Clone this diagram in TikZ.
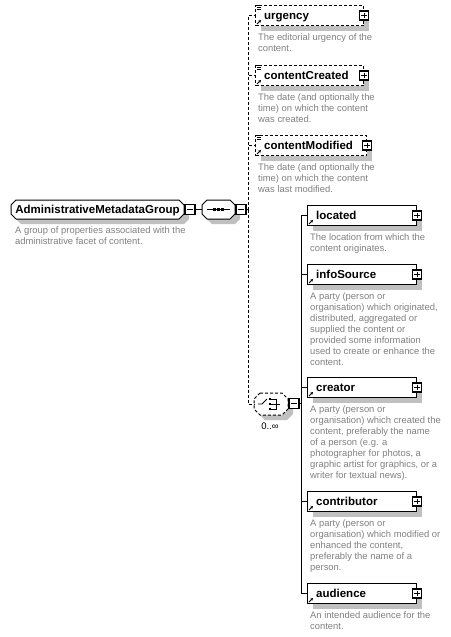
\documentclass[tikz,border=0pt]{standalone}
\usepackage{fontspec}
\setmainfont{Liberation Sans}
\usetikzlibrary{arrows.meta,shadows}
\definecolor{desccol}{RGB}{128,128,128}
\definecolor{shadcol}{RGB}{192,192,192}
\tikzset{
 ebox/.style={draw, fill=white, line width=1pt, anchor=north west, minimum height=20pt, inner sep=0pt,
   drop shadow={shadow xshift=5pt, shadow yshift=-5pt, fill=shadcol, opacity=1}},
 optb/.style={dash pattern=on 3pt off 2pt},
 reqb/.style={},
 lbl/.style={font=\bfseries\fontsize{11.5}{13}\selectfont, inner sep=0pt, anchor=base west},
 desc/.style={font=\fontsize{9.4}{11}\selectfont, text=desccol, align=left, inner sep=0pt, anchor=north west},
 pbox/.style={draw, fill=white, line width=1.2pt, minimum size=9pt, inner sep=0pt},
 sign/.style={line width=1pt},
 refarr/.style={line width=1pt, -{Stealth[length=2.8pt,width=3pt]}},
 conn/.style={line width=1pt},
 dconn/.style={line width=1pt, dash pattern=on 3pt off 2pt},
 oct/.style n args={5}{insert path={({#1+#5},#2) -- ({#3-#5},#2) -- (#3,{#2+#5}) -- (#3,{#4-#5}) -- ({#3-#5},#4) -- ({#1+#5},#4) -- (#1,{#4-#5}) -- (#1,{#2+#5}) -- cycle}},
 holder/.style={inner sep=0pt, draw=none},
}
\newcommand\xelem[7]{%
 \node[ebox,#6,minimum width=#4pt] (#1) at (#2,#3) {};
 \node[lbl] (#1L) at ([shift={(9,4)}]#1.west) {#5};
 \node[pbox] (#1P) at (#1.east) {};
 \draw[sign] ([xshift=-2.7pt]#1P.center) -- ([xshift=2.7pt]#1P.center);
 \draw[sign] ([yshift=-2.7pt]#1P.center) -- ([yshift=2.7pt]#1P.center);
 \draw[refarr] ([shift={(2pt,2pt)}]#1.south west) -- ++(4pt,4pt);
 \node[desc] (#1D) at ([shift={(3,7)}]#1.south west) {\strut #7};
}
\newcommand\xopticon[1]{%
 \draw[line width=0.7pt] ([shift={(2pt,-0.6pt)}]#1.north west) -- ++(5pt,0pt);
 \draw[line width=0.7pt] ([shift={(2pt,-2.3pt)}]#1.north west) -- ++(4pt,0pt);
 \draw[line width=0.7pt] ([shift={(2pt,-4pt)}]#1.north west) -- ++(4pt,0pt);
}
\newcommand\xminus[1]{%
 \draw[sign] ([xshift=-2.7pt]#1.center) -- ([xshift=2.7pt]#1.center);
}
\begin{document}
\begin{tikzpicture}[x=1pt,y=-1pt]
\useasboundingbox (0,0) rectangle (450,637);

% group
\fill[shadcol, shift={(5,5)}, oct={11}{200}{184}{219}{5}];
\draw[line width=1pt, fill=white, oct={11}{200}{184}{219}{5}];
\node[lbl, anchor=base] (group) at (97.5,213.5) {AdministrativeMetadataGroup};
\node[desc] (groupD) at (15,226) {\strut A group of properties associated with the\\administrative facet of content.};
\node[pbox, minimum size=10pt] (groupM) at (190,209.5) {};
\xminus{groupM}

% sequence
\fill[shadcol, shift={(5,5)}, oct={202}{200}{235}{219}{5}];
\draw[line width=1pt, fill=white, oct={202}{200}{235}{219}{5}];
\node[holder, minimum width=33pt, minimum height=19pt] (seq) at (218.5,209.5) {};
\draw[line width=1pt] (207,209.5) -- (230,209.5);
\fill (213,208.2) rectangle ++(2.6,2.6);
\fill (217.2,208.2) rectangle ++(2.6,2.6);
\fill (221.4,208.2) rectangle ++(2.6,2.6);
\node[pbox, minimum size=10pt] (seqM) at (241,209.5) {};
\xminus{seqM}
\draw[conn] (groupM.east) -- (seq.west);
\coordinate (bus1) at (248,209.5);
\draw[conn] (seqM.east) -- (bus1);

% choice
\fill[shadcol, shift={(5,5)}, oct={254}{393}{288}{415}{6}];
\draw[line width=1pt, fill=white, dash pattern=on 3pt off 2pt, oct={254}{393}{288}{415}{6}];
\node[holder, minimum width=34pt, minimum height=22pt] (choice) at (271,404) {};
\draw[line width=0.9pt] (258,404) -- (262,404) -- (267,399);
\fill (269,398) rectangle ++(2.2,2.2);
\fill (269,402.9) rectangle ++(2.2,2.2);
\fill (269,407.8) rectangle ++(2.2,2.2);
\draw[line width=0.8pt] (271.2,399.1) -- (276,399.1) -- (276,408.9) -- (271.2,408.9);
\draw[line width=0.8pt] (271.2,404) -- (280,404);
\node[pbox, minimum size=10pt] (choiceM) at (294,403.5) {};
\xminus{choiceM}
\node[font=\fontsize{9.5}{11}\selectfont, inner sep=0pt] (card) at (270,426) {0..∞};
\coordinate (bus2) at (301,403.5);
\draw[conn] (choiceM.east) -- (bus2);

% elements
\xelem{urgency}{255}{5}{108}{urgency}{optb}{The editorial urgency of the\\content.}
\xopticon{urgency}
\xelem{contentCreated}{255}{65}{108}{contentCreated}{optb}{The date (and optionally the\\time) on which the content\\was created.}
\xopticon{contentCreated}
\xelem{contentModified}{255}{135}{111}{contentModified}{optb}{The date (and optionally the\\time) on which the content\\was last modified.}
\xopticon{contentModified}
\xelem{located}{307}{205}{109}{located}{reqb}{The location from which the\\content originates.}
\xelem{infoSource}{307}{264}{109}{infoSource}{reqb}{A party (person or\\organisation) which originated,\\distributed, aggregated or\\supplied the content or\\provided some information\\used to create or enhance the\\content.}
\xelem{creator}{307}{377}{109}{creator}{reqb}{A party (person or\\organisation) which created the\\content, preferably the name\\of a person (e.g. a\\photographer for photos, a\\graphic artist for graphics, or a\\writer for textual news).}
\xelem{contributor}{307}{491}{109}{contributor}{reqb}{A party (person or\\organisation) which modified or\\enhanced the content,\\preferably the name of a\\person.}
\xelem{audience}{307}{583}{109}{audience}{reqb}{An intended audience for the\\content.}

% connectors
\draw[dconn] (bus1) |- (urgency.west);
\draw[dconn] (bus1) |- (contentCreated.west);
\draw[dconn] (bus1) |- (contentModified.west);
\draw[dconn] (bus1) |- (choice.west);
\draw[conn] (bus2) |- (located.west);
\draw[conn] (bus2) |- (infoSource.west);
\draw[conn] (bus2) |- (creator.west);
\draw[conn] (bus2) |- (contributor.west);
\draw[conn] (bus2) |- (audience.west);
\end{tikzpicture}
\end{document}
